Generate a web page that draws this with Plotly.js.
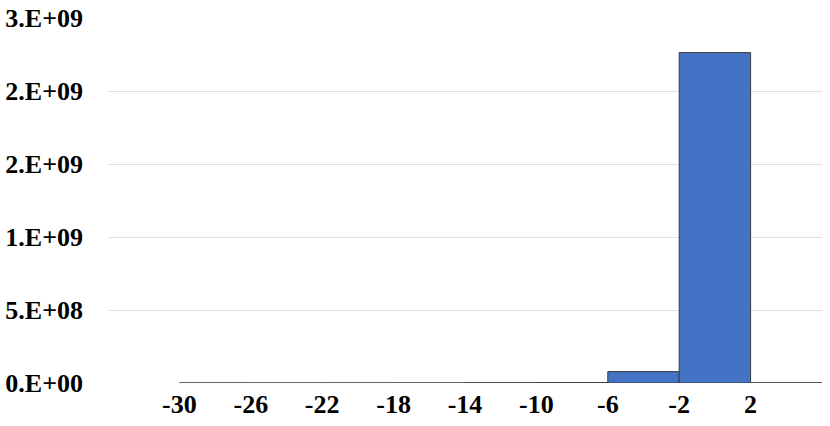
<!DOCTYPE html>
<html>
<head>
<meta charset="utf-8">
<script src="https://cdn.plot.ly/plotly-3.0.1.min.js"></script>
<style>html,body{margin:0;padding:0;background:#fff;}#chart{width:830px;height:426px;}</style>
</head>
<body>
<div id="chart"></div>
<script>
// Bin centres (bins of width 4 from -30 to 6)
const binCenters = [-28, -24, -20, -16, -12, -8, -4, 0, 4];
const binWidth = 4;
const counts = [400000, 300000, 400000, 600000, 1500000, 3000000, 78000000, 2263000000, 1200000];
const xTickVals = [-30, -26, -22, -18, -14, -10, -6, -2, 2];
const xTickText = ["-30", "-26", "-22", "-18", "-14", "-10", "-6", "-2", "2"];
const yTickVals = [0, 500000000, 1000000000, 1500000000, 2000000000, 2500000000];
const yTickText = ["0.E+00", "5.E+08", "1.E+09", "2.E+09", "2.E+09", "3.E+09"];

const font = {family: "Liberation Serif, Times New Roman, serif", size: 26, color: "#000"};

Plotly.newPlot("chart", [{
  type: "bar",
  x: binCenters,
  y: counts,
  width: binCenters.map(() => binWidth),
  marker: {color: "#4472C4", line: {color: "#3a3a3a", width: 1}},
  hoverinfo: "skip"
}], {
  width: 830, height: 426,
  margin: {l: 108, r: 8, t: 18, b: 43},
  paper_bgcolor: "#fff", plot_bgcolor: "#fff",
  showlegend: false,
  bargap: 0,
  font: font,
  xaxis: {
    range: [-34, 6],
    tickvals: xTickVals, ticktext: xTickText,
    showgrid: false, zeroline: false, showline: false,
    ticks: "", ticklabelstandoff: 3,
    tickfont: {family: font.family, size: 26, color: "#000", weight: "bold"}
  },
  yaxis: {
    range: [0, 2500000000],
    tickvals: yTickVals, ticktext: yTickText,
    showgrid: true, gridcolor: "#e0e0e0", gridwidth: 1,
    zeroline: false, showline: false,
    ticks: "", ticklabelstandoff: 24,
    tickfont: {family: font.family, size: 26, color: "#000", weight: "bold"}
  }
}, {staticPlot: true});
</script>
</body>
</html>
